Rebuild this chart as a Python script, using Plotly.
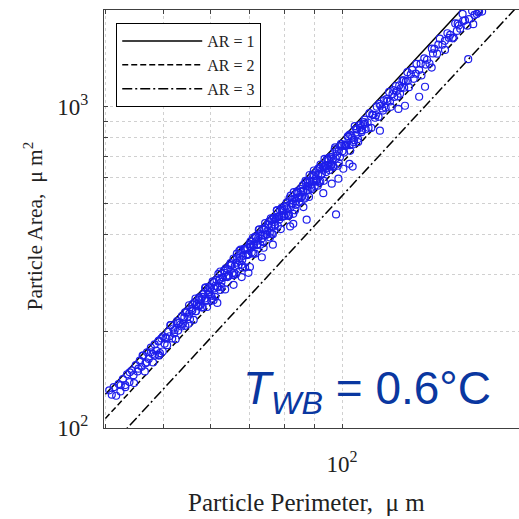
import plotly.graph_objects as go

# ---------------- data ----------------
perimeter = [
    40.6, 41.0, 41.3, 41.7, 42.1, 42.4, 42.8, 43.2, 43.5, 43.9, 44.3, 44.6, 45.0, 45.3, 45.7,
    46.0, 46.3, 46.7, 47.0, 47.3, 47.7, 48.0, 48.4, 48.7, 49.1, 49.4, 49.7, 49.2, 48.1, 46.6,
    50.0, 50.3, 50.5, 50.8, 51.0, 51.3, 51.5, 51.8, 52.0, 52.3, 52.5, 52.8, 53.0, 53.3, 53.5,
    53.8, 54.0, 54.3, 54.5, 54.8, 55.0, 55.3, 55.5, 55.8, 56.0, 56.3, 56.5, 56.8, 57.0, 57.3,
    57.5, 57.8, 58.0, 58.3, 58.5, 58.8, 59.0, 59.3, 59.5, 59.8,
    60.0, 60.3, 60.6, 60.9, 61.2, 61.5, 61.8, 62.1, 62.4, 62.7, 63.0, 63.3, 63.6, 63.9, 64.2,
    64.5, 64.8, 65.1, 65.4, 65.7, 66.0, 66.3, 66.6, 66.9, 67.2, 67.5, 67.8, 68.1, 68.4, 68.7,
    69.0, 69.3, 69.6, 69.9, 70.2, 70.5, 70.8, 71.1, 71.4, 71.7, 72.0, 72.3, 72.6, 72.9, 73.2,
    73.5, 73.8, 74.1, 74.4, 74.7, 75.0, 75.3, 75.6, 75.9, 76.2, 76.5, 76.8, 77.1, 77.4, 77.7,
    78.0, 78.3, 78.6, 78.9, 79.2, 79.5, 79.8,
    80.0, 80.4, 80.8, 81.2, 81.6, 82.0, 82.4, 82.8, 83.2, 83.6, 84.0, 84.4, 84.8, 85.2, 85.6,
    86.0, 86.4, 86.8, 87.2, 87.6, 88.0, 88.4, 88.8, 89.2, 89.6, 90.0, 90.4, 90.8, 91.2, 91.6,
    92.0, 92.4, 92.8, 93.2, 93.6, 94.0, 94.4, 94.8, 95.2, 95.6, 96.0, 96.4, 96.8, 97.2, 97.6,
    98.0, 98.4, 98.8, 99.2, 99.6,
    100.0, 100.8, 101.6, 102.4, 103.2, 104.0, 104.8, 105.6, 106.4, 107.2, 108.0, 108.8, 109.6,
    110.4, 111.2, 112.0, 112.8, 113.6, 114.4, 115.2, 116.0, 116.8, 117.6, 118.4, 119.2, 120.0,
    120.8, 121.6, 122.4, 123.2, 124.0, 124.8, 125.6, 126.4, 127.2, 128.0, 128.8, 129.6,
    130.5, 132.0, 133.4, 134.8, 136.0, 137.5, 139.0, 140.3, 141.6, 143.0, 144.5, 146.0, 147.5,
    149.0, 150.4, 152.0, 153.5, 155.0, 156.5, 158.0, 159.5, 161.0, 162.5, 165.5, 167.0, 168.5,
    170.0, 172.0,
    55.35, 56.05, 56.75, 57.45, 58.15, 58.85, 59.55, 60.25, 60.95, 61.65, 62.35, 63.05, 63.75,
    64.45, 65.15, 65.85, 66.55, 67.25, 67.95, 68.65, 69.35, 70.05, 70.75, 71.45, 72.15, 72.85,
    73.55, 74.25, 74.95, 75.65, 76.35, 77.05, 77.75, 78.45, 79.15, 79.85, 80.55, 81.25, 81.95,
    82.65, 83.35, 84.05, 84.75, 85.45, 86.15, 86.85, 87.55, 88.25, 88.95, 89.65, 90.35, 91.05,
    91.75, 92.45, 93.15, 93.85, 94.55, 95.25, 95.95, 96.65, 97.35, 98.05, 98.75, 99.45, 100.15,
    100.85, 101.55, 102.25, 102.95, 103.65, 104.35, 105.05, 105.75, 106.45, 107.15, 107.85,
    108.55, 109.25,
    42.45, 43.2, 43.95, 44.7, 45.45, 46.2, 46.95, 47.7, 48.45, 49.2, 49.95, 50.7, 51.45, 52.2,
    52.95, 53.7, 54.45, 55.2, 55.95, 56.7, 57.45, 58.2, 58.95, 59.7, 60.45, 61.2, 61.95, 62.7,
    63.45, 64.2, 64.95, 65.7, 66.45, 67.2, 67.95, 68.7, 69.45, 70.2, 70.95, 71.7, 72.45, 73.2,
    73.95, 74.7, 75.45, 76.2, 76.95, 77.7, 78.45, 79.2, 79.95, 80.7, 81.45, 82.2, 82.95, 83.7,
    84.45, 85.2, 85.95, 86.7, 87.45, 88.2, 88.95, 89.7, 90.45, 91.2, 91.95, 92.7, 93.45, 94.2,
    94.95, 95.7,
    101.2, 103.0, 104.6, 106.0, 107.8, 109.2, 110.8, 112.4, 114.0, 115.6, 117.2, 118.8, 120.4,
    122.0, 123.6, 125.2, 127.0, 129.0, 131.2, 133.0, 135.6, 138.2, 142.2, 145.2, 151.2, 157.2,
    163.5,
    87.2, 97.7, 100.5, 102.9, 104.2, 98.6, 96.1, 93.0, 82.8, 81.8, 76.5, 73.3, 69.6, 67.8, 65.7,
    61.7, 86.1, 134.8, 137.9, 127.6, 124.4, 115.8, 141.5, 163.0, 166.2, 159.9, 156.0, 154.0,
    148.9, 169.6, 70.0, 62.4, 60.8, 59.3, 49.2,
]
area = [
    131, 127, 134, 126, 137, 130, 142, 136, 147, 139, 151, 146, 157, 150, 162,
    155, 168, 159, 172, 164, 178, 170, 182, 174, 186, 171, 190, 168, 160, 150,
    193, 183, 191, 181, 199, 193, 209, 190, 204, 202, 189, 215, 201, 213, 210,
    223, 211, 221, 208, 229, 222, 241, 218, 235, 232, 217, 246, 231, 243, 240,
    255, 242, 252, 238, 261, 253, 274, 249, 268, 265,
    272, 258, 286, 272, 256, 289, 274, 289, 307, 275, 294, 309, 270, 296, 312,
    298, 321, 321, 303, 337, 319, 301, 339, 321, 338, 359, 322, 343, 361, 316,
    345, 363, 347, 373, 373, 352, 391, 370, 349, 393, 371, 391, 415, 372, 397,
    417, 364, 398, 419, 400, 430, 429, 405, 449, 425, 401, 451, 426, 448, 476,
    426, 454, 477, 416, 454, 478, 456,
    489, 463, 483, 457, 519, 487, 513, 464, 518, 495, 545, 522, 504, 555, 525,
    547, 517, 588, 551, 580, 524, 585, 559, 614, 588, 567, 624, 591, 616, 581,
    660, 618, 651, 588, 656, 626, 688, 658, 635, 698, 660, 688, 649, 737, 690,
    726, 655, 730, 697, 766,
    756, 720, 756, 810, 729, 801, 787, 852, 793, 860, 845, 895, 851,
    893, 955, 859, 942, 924, 1000, 930, 1007, 988, 1046, 993, 1041, 1112,
    999, 1095, 1073, 1160, 1077, 1165, 1143, 1208, 1146, 1200, 1281, 1150,
    1261, 1221, 1360, 1302, 1251, 1415, 1400, 1363, 1516, 1514, 1463, 1629, 1559,
    1502, 1693, 1674, 1632, 1817, 1813, 1749, 1944, 1857, 1787, 1984, 1931, 1944,
    1978, 1978,
    227, 243, 231, 250, 237, 273, 260, 249, 284, 275, 291, 294, 314,
    298, 321, 304, 349, 331, 316, 360, 348, 367, 371, 394, 373, 401,
    379, 434, 411, 392, 445, 430, 452, 456, 484, 457, 491, 462, 529,
    500, 476, 540, 520, 546, 549, 582, 549, 589, 554, 633, 598, 568,
    643, 619, 649, 652, 690, 650, 696, 654, 747, 704, 668, 756, 727,
    761, 763, 807, 759, 812, 763, 870, 819, 776, 877, 843,
    882, 884,
    136, 134, 149, 138, 153, 168, 160, 172, 168, 187, 173, 190, 209, 197,
    212, 207, 229, 211, 232, 253, 239, 256, 249, 275, 253, 277, 302, 285,
    304, 295, 326, 299, 327, 356, 334, 357, 346, 381, 349, 381, 414, 388,
    414, 400, 440, 402, 438, 476, 446, 474, 458, 503, 459, 500, 542, 508,
    539, 520, 570, 521, 566, 613, 573, 608, 586, 642, 586, 636, 688, 643,
    682, 656,
    758, 819, 775, 850, 833, 911, 860, 945, 941, 1021, 973, 1056, 1039,
    1126, 1119, 1098, 1207, 1205, 1302, 1267, 1361, 1353, 1465, 1561, 1638, 1790,
    1873,
    445, 462, 641, 664, 651, 597, 576, 538, 432, 424, 372, 340, 304, 295, 279,
    245, 487, 1074, 1154, 1007, 984, 842, 1324, 1406, 1807, 1849, 1722, 1641,
    1603, 1963, 317, 269, 250, 238, 169,
]

# aspect-ratio reference lines (end points, perimeter -> area)
line_perimeter = [40, 200]
ar1_area = [127.3, 3183]
ar2_area = [107.1, 2677]
ar3_area = [84.4, 2111]
line_names = ["AR = 1", "AR = 2", "AR = 3"]

x_grid = [40, 50, 60, 70, 80, 90, 100, 200]
x_text = ["", "", "", "", "", "", "10<sup>2</sup>", ""]
y_grid = [100, 200, 300, 400, 500, 600, 700, 800, 900, 1000, 2000]
y_text = ["10<sup>2</sup>", "", "", "", "", "", "", "", "", "10<sup>3</sup>", ""]

SERIF = "Liberation Serif, Times New Roman, serif"
BLUE = "rgb(30,30,235)"

fig = go.Figure()
for ar_area, name, dash in zip([ar1_area, ar2_area, ar3_area], line_names,
                               ["solid", "6px,3px", "10px,3px,2px,3px"]):
    fig.add_trace(go.Scatter(x=line_perimeter, y=ar_area, mode="lines", name=name,
                             line=dict(color="black", width=1.5, dash=dash)))

fig.add_trace(go.Scatter(x=perimeter, y=area, mode="markers", showlegend=False,
                         marker=dict(symbol="circle-open", size=7, color=BLUE,
                                     line=dict(width=1.2, color=BLUE))))

axis_common = dict(type="log", showline=True, linecolor="#404040", linewidth=1,
                   ticks="inside", ticklen=4, tickcolor="#404040",
                   showgrid=True, gridcolor="#d0d0d0", griddash="dot", gridwidth=1,
                   zeroline=False, tickfont=dict(family=SERIF, size=23, color="#222"))

fig.update_xaxes(range=[1.5997, 2.2976], tickmode="array", tickvals=x_grid, ticktext=x_text,
                 mirror="ticks", ticklabelstandoff=15, **axis_common)
fig.update_yaxes(range=[2, 3.30103], tickmode="array", tickvals=y_grid, ticktext=y_text,
                 mirror=False, ticklabelstandoff=10, **axis_common)

fig.update_layout(
    width=519, height=519,
    margin=dict(l=104, r=0, t=10, b=91),
    paper_bgcolor="white", plot_bgcolor="white",
    legend=dict(x=0.029, y=0.969, xanchor="left", yanchor="top",
                bgcolor="white", bordercolor="black", borderwidth=1.2,
                font=dict(family=SERIF, size=16, color="#222"),
                itemwidth=80, tracegroupgap=0,
                entrywidth=150, entrywidthmode="pixels"),
    annotations=[
        dict(text="Particle Perimeter,  \u03bc m", xref="paper", yref="paper",
             x=0.487, y=-0.179, xanchor="center", yanchor="middle", showarrow=False,
             font=dict(family=SERIF, size=25, color="#222")),
        dict(text="Particle Area,  \u03bc m<sup>2</sup>", xref="paper", yref="paper",
             x=-0.17, y=0.483, xanchor="center", yanchor="middle", showarrow=False,
             textangle=-90, font=dict(family=SERIF, size=21.5, color="#222")),
        dict(text="<i>T</i><sub><i>WB</i></sub> = 0.6\u00b0C", xref="paper", yref="paper",
             x=0.33, y=0.088, xanchor="left", yanchor="middle", showarrow=False,
             font=dict(family="Liberation Sans, Arial, sans-serif", size=46,
                       color="rgb(10,55,160)")),
    ],
)

fig.write_html("out.html")
